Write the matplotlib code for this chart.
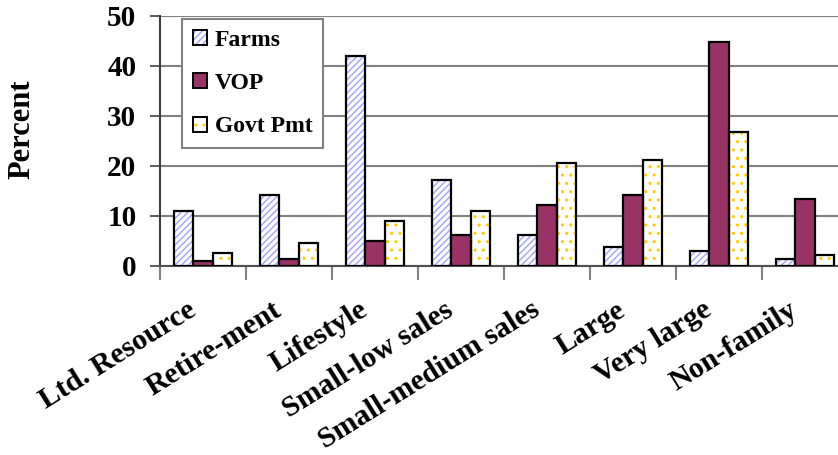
import matplotlib
matplotlib.use('Agg')
import matplotlib.pyplot as plt
from matplotlib.patches import Patch
from matplotlib.transforms import ScaledTranslation
import numpy as np

# data
categories = ['Ltd. Resource', 'Retire-ment', 'Lifestyle', 'Small-low sales',
              'Small-medium sales', 'Large', 'Very large', 'Non-family']
farms = [11.1, 14.3, 41.9, 17.1, 6.3, 3.9, 3.1, 1.5]
vop = [1.1, 1.5, 5.1, 6.3, 12.3, 14.3, 44.7, 13.5]
govt = [2.7, 4.7, 9.1, 11.1, 20.7, 21.1, 26.7, 2.2]

plt.rcParams['font.family'] = ['Liberation Serif', 'DejaVu Serif']
plt.rcParams['font.weight'] = 'bold'
plt.rcParams['hatch.linewidth'] = 1.1

W, H = 838, 455
fig = plt.figure(figsize=(W / 100, H / 100), dpi=100)
# plot area runs a bit past the right edge, like the original
ax = fig.add_axes([160 / W, (H - 266) / H, 688 / W, 250 / H])

x = np.arange(len(categories))
bw = 0.228

def hatched(xpos, vals, hcolor, hatch):
    ax.bar(xpos, vals, bw, color='white', edgecolor=hcolor, hatch=hatch,
           linewidth=0, zorder=3)
    ax.bar(xpos, vals, bw, fill=False, edgecolor='black', linewidth=1.6, zorder=4)

hatched(x - bw, farms, '#a8a8ff', '/////')
ax.bar(x, vop, bw, color='#993366', edgecolor='black', linewidth=1.6, zorder=4)
hatched(x + bw, govt, '#ffcc00', '..')

ax.set_xlim(-0.5, len(categories) - 0.5)
ax.set_ylim(0, 50)
ax.set_yticks(range(0, 51, 10))
ax.tick_params(axis='y', labelsize=21, length=7, width=1.2, pad=10, color='#404040')
ax.yaxis.grid(True, color='#808080', linewidth=1.5, zorder=0)

# category ticks sit on group boundaries
ax.set_xticks(np.arange(len(categories) + 1) - 0.5)
ax.set_xticklabels([])
ax.tick_params(axis='x', length=10, width=1.5, color='#808080')
ax.set_xticks(x, minor=True)
ax.set_xticklabels(categories, minor=True, rotation=32, ha='right',
                   rotation_mode='anchor', fontsize=21.5)
ax.tick_params(axis='x', which='minor', length=0, pad=16)
shift = ScaledTranslation(-0.17, -0.08, fig.dpi_scale_trans)
for lab in ax.get_xticklabels(minor=True):
    lab.set_transform(lab.get_transform() + shift)

for s in ['top', 'right']:
    ax.spines[s].set_visible(False)
ax.spines['left'].set_color('#404040')
ax.spines['left'].set_linewidth(1.5)
ax.spines['bottom'].set_color('#505050')
ax.spines['bottom'].set_linewidth(1.5)

fig.text(22 / W, 1 - 129 / H, 'Percent', rotation=90, fontsize=22,
         ha='center', va='center')

h_farms = (Patch(facecolor='white', edgecolor='#a8a8ff', hatch='/////', linewidth=0),
           Patch(fill=False, edgecolor='black', linewidth=1.4))
h_vop = Patch(facecolor='#993366', edgecolor='black', linewidth=1.4)
h_govt = (Patch(facecolor='white', edgecolor='#ffcc00', hatch='..', linewidth=0),
          Patch(fill=False, edgecolor='black', linewidth=1.4))
leg = ax.legend([h_farms, h_vop, h_govt], ['Farms', 'VOP', 'Govt Pmt'],
                loc='upper left', bbox_to_anchor=(22 / 688, 1 - 3 / 250),
                borderaxespad=0, fontsize=17, fancybox=False, framealpha=1,
                edgecolor='#808080', handlelength=0.6, handleheight=0.6,
                labelspacing=0.95, handletextpad=0.35, borderpad=0.45)
leg.get_frame().set_linewidth(1.5)
leg.set_zorder(10)

fig.savefig('out.png', dpi=100)
